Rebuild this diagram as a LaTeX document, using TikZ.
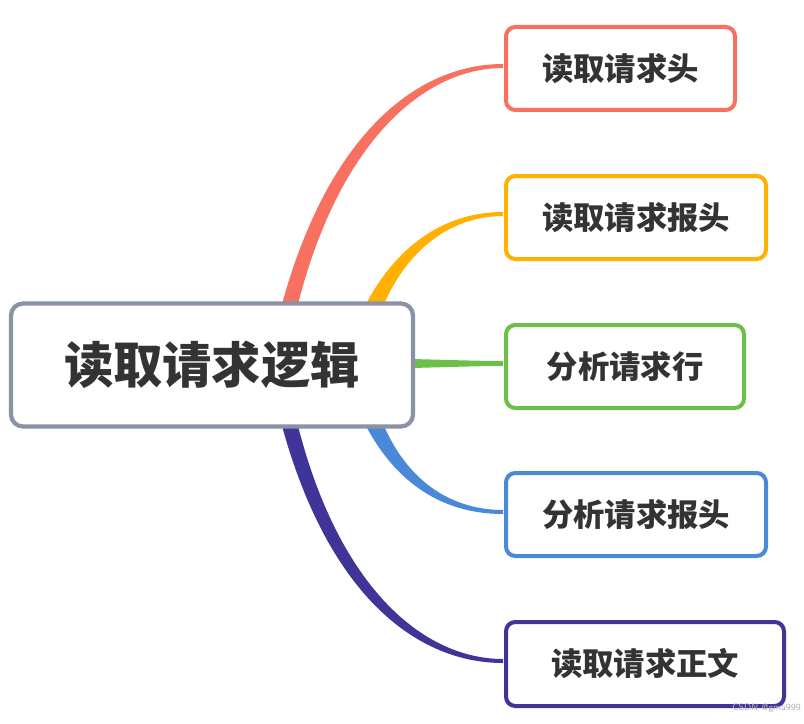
\documentclass[tikz,border=0pt]{standalone}
\usepackage{fontspec}
\newfontfamily\cjk{Noto Sans CJK SC}
\definecolor{cR}{HTML}{F87060}
\definecolor{cY}{HTML}{FFB000}
\definecolor{cG}{HTML}{6CC04A}
\definecolor{cB}{HTML}{4A88D8}
\definecolor{cP}{HTML}{3F3598}
\definecolor{cC}{HTML}{8A93A3}
\definecolor{tx}{HTML}{333333}
\begin{document}
\begin{tikzpicture}[x=0.75pt,y=-0.75pt,
  leaf/.style={draw=#1,line width=3pt,rounded corners=7pt,fill=white,anchor=north west,inner sep=0pt,text=tx,font=\cjk\bfseries\fontsize{23.5}{26}\selectfont},
  ]
\useasboundingbox[fill=white] (0,0) rectangle (804,724);
% branches
\fill[cR] (282,304) .. controls (330,130) and (420,64) .. (503,64) -- (503,68) .. controls (425,68) and (340,140) .. (298,304) -- cycle;
\fill[cY] (366,304) .. controls (400,240) and (450,212) .. (503,212) -- (503,216) .. controls (455,216) and (410,245) .. (384,304) -- cycle;
\fill[cG] (412,359) .. controls (450,360) and (480,361) .. (503,361) -- (503,366) .. controls (480,366) and (450,367) .. (412,368) -- cycle;
\fill[cB] (366,426) .. controls (400,490) and (450,514) .. (503,514) -- (503,510) .. controls (455,510) and (410,485) .. (384,426) -- cycle;
\fill[cP] (282,426) .. controls (330,600) and (420,663) .. (503,663) -- (503,659) .. controls (425,659) and (340,590) .. (298,426) -- cycle;
% boxes
\node[draw=cC,line width=3.2pt,rounded corners=9pt,fill=white,minimum width=402pt*0.75,minimum height=123pt*0.75,text=tx,font=\cjk\bfseries\fontsize{37}{40}\selectfont] (c) at (212,365) {读取请求逻辑};
\node[leaf=cR,minimum width=229*0.75pt,minimum height=83*0.75pt] (a1) at (504,25) {读取请求头};
\node[leaf=cY,minimum width=260*0.75pt,minimum height=83*0.75pt] (a2) at (504,174) {读取请求报头};
\node[leaf=cG,minimum width=238*0.75pt,minimum height=83*0.75pt] (a3) at (504,323) {分析请求行};
\node[leaf=cB,minimum width=260*0.75pt,minimum height=83*0.75pt] (a4) at (504,471) {分析请求报头};
\node[leaf=cP,minimum width=278*0.75pt,minimum height=84*0.75pt] (a5) at (504,620) {读取请求正文};
\node[text=gray!60,font=\sffamily\fontsize{7}{8}\selectfont,anchor=east,inner sep=0pt] (w) at (801,708) {CSDN @gma999};
\end{tikzpicture}
\end{document}
